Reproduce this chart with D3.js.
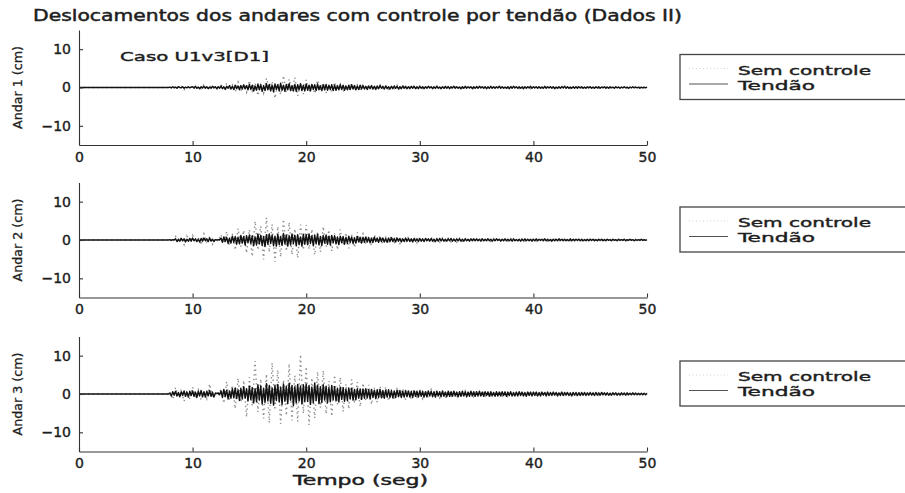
<!DOCTYPE html>
<html>
<head>
<meta charset="utf-8">
<script src="https://cdn.jsdelivr.net/npm/d3@7"></script>
<style>
  body { margin: 0; background: #fff; }
  svg { display: block; }
</style>
</head>
<body>
<svg id="chart" width="905" height="493"></svg>
<script>
// Sampling intervals of the displacement records (s)
const semDt = 0.25;
const tendaoDt = 0.125;

const titulo = "Deslocamentos dos andares com controle por tendão (Dados II)";
const caso = "Caso U1v3[D1]";
const eixoX = "Tempo (seg)";
const xTicks = [0, 10, 20, 30, 40, 50];
const yTicks = [-10, 0, 10];
const seriesNames = ["Sem controle", "Tendão"];
const andarLabels = ["Andar 1 (cm)", "Andar 2 (cm)", "Andar 3 (cm)"];

// Uncontrolled floor displacements (cm), one value every semDt seconds, 0..50 s
const semControle1 = [
  0,0,0,0,0,0,0,0,0,0,0,0,0,0,0,0,0,0,0,0,
  0,0,0,0,0,0,0,0,0,0,0,0,0.2,-0.4,0.5,-0.1,0.3,-0.6,0.2,-0.3,
  0.4,-0.6,0.2,-0.3,0.9,-0.5,0.6,-0.2,0.3,-0.7,0.8,-0.3,1.1,-0.6,0.7,-1.2,1.4,-0.8,0.6,-1.3,
  1.8,-0.9,1.2,-2.1,0.7,-1.5,2.4,-0.6,1.6,-2.8,1.1,-1.9,3.1,-1.3,2.2,-0.9,2.6,-2.2,1.0,-1.7,
  2.0,-1.1,0.8,-1.6,1.9,-0.7,1.2,-1.5,0.6,-1.2,1.4,-0.8,0.9,-1.1,0.5,-0.9,1.0,-0.6,0.7,-1.0,
  0.8,-0.4,0.6,-0.7,0.3,-0.6,0.7,-0.3,0.5,-0.5,0.3,-0.6,0.6,-0.3,0.4,-0.5,0.3,-0.2,0.5,-0.4,
  0.4,-0.3,0.2,-0.4,0.3,-0.2,0.4,-0.3,0.2,-0.4,0.3,-0.2,0.4,-0.3,0.2,-0.2,0.3,-0.4,0.2,-0.3,
  0.3,-0.2,0.4,-0.2,0.2,-0.3,0.3,-0.1,0.3,-0.3,0.2,-0.2,0.3,-0.2,0.2,-0.3,0.3,-0.2,0.1,-0.3,
  0.2,-0.3,0.2,-0.1,0.3,-0.2,0.2,-0.3,0.2,-0.2,0.3,-0.2,0.1,-0.3,0.2,-0.2,0.3,-0.1,0.2,-0.2,
  0.2,-0.2,0.1,-0.2,0.3,-0.2,0.2,-0.1,0.2,-0.3,0.1,-0.2,0.2,-0.2,0.1,-0.2,0.2,-0.1,0.2,-0.2,
  0.1
];
const semControle2 = [
  0,0,0,0,0,0,0,0,0,0,0,0,0,0,0,0,0,0,0,0,
  0,0,0,0,0,0,0,0,0,0,0,0,0.2,-0.6,0.9,-0.4,0.7,-1.2,1.0,-0.5,
  1.2,-0.7,0.6,-1.3,1.6,-0.5,0.9,-1.1,0.4,-0.3,1.4,-0.8,2.2,-1.4,1.6,-2.6,3.0,-1.7,2.5,-3.4,
  2.7,-4.3,4.9,-2.6,3.6,-5.1,5.8,-3.2,4.1,-5.7,3.5,-4.4,5.4,-2.9,4.6,-3.8,2.9,-4.7,4.0,-2.6,
  3.9,-2.4,2.8,-3.9,2.2,-3.1,3.5,-1.8,2.6,-2.9,1.7,-2.5,2.8,-1.4,1.9,-2.2,1.3,-1.9,2.0,-1.1,
  1.6,-1.2,0.9,-1.5,1.3,-0.8,1.2,-1.1,0.7,-1.0,1.1,-0.6,0.9,-0.9,0.6,-0.8,0.9,-0.5,0.7,-0.7,
  0.6,-0.7,0.5,-0.4,0.7,-0.5,0.4,-0.6,0.6,-0.3,0.5,-0.5,0.3,-0.6,0.5,-0.4,0.4,-0.3,0.5,-0.4,
  0.4,-0.3,0.5,-0.4,0.3,-0.4,0.4,-0.2,0.4,-0.4,0.3,-0.3,0.4,-0.2,0.3,-0.4,0.3,-0.3,0.2,-0.3,
  0.3,-0.3,0.2,-0.2,0.3,-0.3,0.2,-0.2,0.3,-0.2,0.3,-0.3,0.2,-0.2,0.3,-0.2,0.2,-0.3,0.2,-0.2,
  0.2,-0.2,0.3,-0.1,0.2,-0.2,0.2,-0.1,0.2,-0.2,0.1,-0.2,0.2,-0.2,0.2,-0.1,0.2,-0.2,0.1,-0.1,
  0.1
];
const semControle3 = [
  0,0,0,0,0,0,0,0,0,0,0,0,0,0,0,0,0,0,0,0,
  0,0,0,0,0,0,0,0,0,0,0,0,0.6,-1.4,1.7,-0.8,1.2,-1.9,0.9,-1.3,
  1.8,-0.9,1.1,-1.6,0.8,-1.2,2.6,-1.0,0.5,-0.4,1.3,-2.4,3.2,-1.6,2.3,-3.8,4.1,-2.2,3.5,-6.0,
  4.4,-3.1,8.6,-4.7,3.9,-6.4,5.2,-7.5,8.1,-4.2,6.3,-7.8,3.7,-5.6,7.9,-6.9,4.8,-7.2,10.3,-5.1,
  7.1,-8.1,4.2,-6.3,5.8,-3.6,6.1,-5.2,3.4,-5.8,4.9,-2.7,4.3,-4.6,2.6,-3.9,3.8,-2.4,3.1,-3.3,
  2.8,-1.9,2.4,-2.7,1.6,-2.2,2.0,-1.3,1.9,-1.8,1.2,-1.6,1.7,-1.0,1.4,-1.5,0.9,-1.3,1.2,-0.8,
  1.1,-1.2,0.8,-0.9,1.2,-0.7,0.9,-1.0,0.6,-1.0,0.9,-0.6,0.8,-0.9,0.5,-0.8,0.9,-0.6,0.7,-0.7,
  0.7,-0.5,0.8,-0.6,0.5,-0.7,0.6,-0.4,0.7,-0.6,0.5,-0.7,0.4,-0.6,0.6,-0.4,0.5,-0.6,0.6,-0.4,
  0.5,-0.5,0.4,-0.3,0.6,-0.5,0.4,-0.4,0.5,-0.3,0.4,-0.5,0.5,-0.3,0.3,-0.4,0.5,-0.4,0.3,-0.4,
  0.4,-0.3,0.3,-0.4,0.4,-0.2,0.3,-0.3,0.2,-0.4,0.3,-0.2,0.3,-0.3,0.2,-0.3,0.3,-0.2,0.2,-0.2,
  0.2
];

// Tendon-controlled floor displacements (cm), one value every tendaoDt seconds, 0..50 s
const tendao1 = [
  0,0,0,0,0,0,0,0,0,0,0,0,0,0,0,0,0,0,0,0,0,0,0,0,0,0,0,0,0,0,0,0,0,0,0,0,0,0,0,0,
  0,0,0,0,0,0,0,0,0,0,0,0,0,0,0,0,0,0,0,0,0,0,0,0,
  0.1,-0.1,0.2,-0.1,0.1,-0.2,0.2,0,-0.1,0.2,-0.2,0.1,-0.1,0.2,-0.1,0.1,
  0.2,-0.1,0.3,-0.2,0.1,-0.3,0.2,-0.1,0.3,-0.2,0.2,-0.3,0.1,-0.2,0.3,-0.1,0.2,-0.3,0.2,-0.2,
  0.4,-0.3,0.2,-0.5,0.3,-0.2,0.5,-0.4,0.3,-0.5,0.6,-0.3,0.4,-0.6,0.5,-0.4,0.7,-0.3,0.5,-0.6,
  0.8,-0.5,0.6,-0.9,0.4,-0.7,0.9,-0.6,0.7,-1.0,0.5,-0.8,1.0,-0.6,0.8,-0.9,0.6,-1.1,0.9,-0.5,
  0.7,-0.9,1.1,-0.7,0.6,-1.0,0.8,-0.6,1.0,-0.8,0.5,-0.9,0.8,-1.0,0.7,-0.6,1.0,-0.8,0.6,-0.9,
  0.9,-0.7,0.6,-0.9,0.8,-0.5,0.7,-0.8,0.9,-0.6,0.5,-0.8,0.7,-0.6,0.8,-0.7,0.6,-0.5,0.7,-0.8,
  0.6,-0.7,0.5,-0.6,0.7,-0.5,0.6,-0.7,0.4,-0.6,0.6,-0.5,0.7,-0.4,0.5,-0.6,0.4,-0.5,0.6,-0.4,
  0.5,-0.4,0.3,-0.5,0.4,-0.3,0.5,-0.4,0.3,-0.5,0.4,-0.3,0.5,-0.2,0.3,-0.4,0.4,-0.3,0.2,-0.4,
  0.3,-0.3,0.4,-0.2,0.3,-0.4,0.2,-0.3,0.4,-0.2,0.3,-0.3,0.2,-0.3,0.3,-0.2,0.3,-0.3,0.2,-0.3,
  0.3,-0.2,0.2,-0.3,0.2,-0.2,0.3,-0.1,0.2,-0.3,0.2,-0.2,0.3,-0.2,0.1,-0.3,0.2,-0.2,0.3,-0.2,
  0.2,-0.3,0.2,-0.1,0.3,-0.2,0.2,-0.2,0.1,-0.3,0.2,-0.2,0.3,-0.2,0.2,-0.1,0.2,-0.3,0.2,-0.2,
  0.2,-0.2,0.3,-0.1,0.2,-0.2,0.2,-0.3,0.1,-0.2,0.3,-0.2,0.2,-0.2,0.2,-0.1,0.3,-0.2,0.2,-0.2,
  0.1,-0.2,0.2,-0.3,0.2,-0.2,0.3,-0.1,0.2,-0.2,0.2,-0.2,0.1,-0.3,0.2,-0.2,0.2,-0.1,0.3,-0.2,
  0.2,-0.1,0.2,-0.2,0.2,-0.2,0.1,-0.2,0.3,-0.2,0.2,-0.1,0.2,-0.2,0.2,-0.3,0.1,-0.2,0.2,-0.2,
  0.2,-0.1,0.3,-0.2,0.2,-0.2,0.1,-0.2,0.2,-0.2,0.2,-0.2,0.2,-0.1,0.2,-0.2,0.1,-0.2,0.2,-0.1,
  0.2,-0.2,0.1,-0.2,0.2,-0.1,0.2,-0.2,0.1,-0.1,0.2,-0.2,0.1,-0.2,0.2,-0.1,0.1,-0.2,0.2,-0.1,
  0.1,-0.2,0.1,-0.1,0.2,-0.1,0.1,-0.2,0.1,-0.1,0.2,-0.1,0.1,-0.1,0.1,-0.2,0.1,-0.1,0.1,-0.1,
  0.1
];
const tendao2 = [
  0,0,0,0,0,0,0,0,0,0,0,0,0,0,0,0,0,0,0,0,0,0,0,0,0,0,0,0,0,0,0,0,0,0,0,0,0,0,0,0,
  0,0,0,0,0,0,0,0,0,0,0,0,0,0,0,0,0,0,0,0,0,0,0,0,
  0.1,-0.1,0.1,0,0.3,-0.4,0.2,-0.3,0.4,-0.2,0.3,-0.5,0.2,-0.3,0.4,-0.3,
  0.5,-0.2,0.3,-0.4,0.2,-0.5,0.4,-0.3,0.5,-0.2,0.3,-0.4,0.5,-0.3,0.2,-0.4,0.1,0,0.1,0,
  0.5,-0.6,0.8,-0.4,0.7,-0.9,0.5,-0.8,1.0,-0.6,0.9,-1.1,0.7,-1.0,1.2,-0.8,0.9,-1.3,1.1,-0.7,
  1.3,-0.9,1.1,-1.5,0.8,-1.3,1.6,-1.0,1.2,-1.4,0.9,-1.7,1.4,-1.1,1.6,-0.9,1.3,-1.5,1.0,-1.6,
  1.5,-1.2,0.9,-1.4,1.7,-1.0,1.3,-1.6,1.1,-1.3,1.6,-0.9,1.2,-1.5,1.4,-1.2,0.8,-1.6,1.5,-1.1,
  1.4,-1.2,1.6,-0.9,1.1,-1.5,1.3,-1.0,1.5,-1.3,0.9,-1.4,1.2,-0.8,1.3,-1.1,1.0,-1.3,1.2,-0.7,
  1.1,-1.0,0.8,-1.2,1.0,-0.7,0.9,-1.1,0.7,-0.9,1.0,-0.6,0.8,-0.9,0.6,-0.8,0.9,-0.5,0.7,-0.8,
  0.7,-0.6,0.8,-0.5,0.6,-0.7,0.5,-0.6,0.7,-0.4,0.5,-0.6,0.6,-0.4,0.5,-0.5,0.4,-0.6,0.5,-0.4,
  0.6,-0.4,0.4,-0.5,0.5,-0.3,0.4,-0.5,0.3,-0.4,0.5,-0.3,0.4,-0.4,0.3,-0.5,0.4,-0.3,0.3,-0.4,
  0.4,-0.3,0.3,-0.4,0.4,-0.2,0.3,-0.3,0.4,-0.3,0.2,-0.4,0.3,-0.3,0.4,-0.2,0.3,-0.3,0.2,-0.3,
  0.3,-0.2,0.4,-0.3,0.2,-0.3,0.3,-0.2,0.3,-0.3,0.2,-0.3,0.3,-0.2,0.2,-0.3,0.3,-0.2,0.3,-0.2,
  0.3,-0.2,0.2,-0.3,0.3,-0.2,0.2,-0.2,0.3,-0.2,0.2,-0.3,0.2,-0.2,0.3,-0.1,0.2,-0.3,0.2,-0.2,
  0.3,-0.2,0.2,-0.2,0.2,-0.3,0.3,-0.2,0.1,-0.2,0.2,-0.3,0.2,-0.2,0.3,-0.2,0.2,-0.2,0.2,-0.3,
  0.2,-0.2,0.3,-0.2,0.2,-0.1,0.2,-0.2,0.3,-0.2,0.2,-0.2,0.1,-0.3,0.2,-0.2,0.2,-0.2,0.3,-0.1,
  0.2,-0.2,0.2,-0.2,0.1,-0.2,0.3,-0.2,0.2,-0.2,0.2,-0.1,0.2,-0.2,0.2,-0.2,0.1,-0.2,0.2,-0.2,
  0.2,-0.1,0.2,-0.2,0.1,-0.2,0.2,-0.1,0.2,-0.2,0.1,-0.2,0.2,-0.1,0.1,-0.2,0.2,-0.1,0.1,-0.2,
  0.2,-0.1,0.1,-0.1,0.2,-0.2,0.1,-0.1,0.2,-0.1,0.1,-0.2,0.1,-0.1,0.1,-0.1,0.2,-0.1,0.1,-0.1,
  0.1
];
const tendao3 = [
  0,0,0,0,0,0,0,0,0,0,0,0,0,0,0,0,0,0,0,0,0,0,0,0,0,0,0,0,0,0,0,0,0,0,0,0,0,0,0,0,
  0,0,0,0,0,0,0,0,0,0,0,0,0,0,0,0,0,0,0,0,0,0,0,0,
  0.2,-0.5,0.6,-0.3,0.7,-0.5,0.4,-0.7,0.6,-0.4,0.8,-0.6,0.5,-0.8,0.7,-0.4,
  0.8,-0.6,0.5,-0.9,0.7,-0.5,0.9,-0.7,0.6,-0.8,0.7,-0.5,0.9,-0.6,0.5,-0.8,0.2,0.1,0.3,-0.2,
  0.8,-0.9,1.2,-0.7,1.0,-1.3,0.8,-1.1,1.4,-1.0,1.6,-1.2,1.1,-1.7,1.5,-1.3,1.9,-1.1,1.4,-1.8,
  2.0,-1.5,1.7,-2.3,1.4,-2.0,2.4,-1.6,2.1,-2.6,1.5,-2.2,2.7,-1.8,2.2,-2.4,1.6,-2.9,2.3,-1.7,
  2.5,-2.1,1.8,-2.7,2.6,-1.9,2.0,-2.5,2.8,-1.6,2.2,-3.0,1.9,-2.3,2.5,-1.8,2.1,-2.6,2.4,-2.0,
  2.6,-1.9,2.2,-2.7,1.8,-2.3,2.9,-1.7,2.3,-2.5,1.9,-2.2,2.4,-1.6,2.0,-2.3,1.7,-2.0,2.2,-1.5,
  1.9,-1.8,1.5,-2.1,1.8,-1.4,1.7,-1.9,1.3,-1.7,1.6,-1.3,1.5,-1.6,1.2,-1.5,1.4,-1.1,1.3,-1.4,
  1.3,-1.1,1.4,-1.0,1.1,-1.3,1.2,-0.9,1.0,-1.2,1.1,-0.9,1.2,-1.0,0.9,-1.1,1.0,-0.8,1.1,-0.9,
  0.9,-1.0,0.8,-0.9,1.0,-0.7,0.9,-0.9,0.7,-0.8,0.9,-0.7,0.8,-0.8,0.7,-0.9,0.8,-0.6,0.7,-0.8,
  0.8,-0.6,0.7,-0.8,0.6,-0.7,0.8,-0.5,0.7,-0.7,0.6,-0.8,0.7,-0.5,0.6,-0.7,0.8,-0.6,0.5,-0.7,
  0.7,-0.6,0.6,-0.6,0.7,-0.5,0.5,-0.7,0.6,-0.6,0.7,-0.5,0.6,-0.7,0.5,-0.6,0.7,-0.5,0.6,-0.6,
  0.6,-0.5,0.7,-0.5,0.5,-0.6,0.6,-0.4,0.5,-0.6,0.6,-0.5,0.4,-0.6,0.6,-0.5,0.5,-0.5,0.6,-0.4,
  0.5,-0.6,0.5,-0.4,0.6,-0.5,0.4,-0.5,0.5,-0.5,0.6,-0.4,0.5,-0.5,0.4,-0.6,0.5,-0.4,0.5,-0.5,
  0.5,-0.4,0.5,-0.5,0.4,-0.5,0.5,-0.3,0.4,-0.5,0.5,-0.4,0.4,-0.4,0.5,-0.3,0.4,-0.5,0.3,-0.4,
  0.5,-0.4,0.4,-0.3,0.4,-0.4,0.3,-0.5,0.4,-0.3,0.4,-0.4,0.3,-0.4,0.4,-0.3,0.4,-0.4,0.3,-0.3,
  0.4,-0.3,0.3,-0.4,0.4,-0.3,0.3,-0.3,0.4,-0.2,0.3,-0.3,0.3,-0.3,0.2,-0.3,0.3,-0.2,0.3,-0.3,
  0.2,-0.3,0.3,-0.2,0.2,-0.3,0.3,-0.2,0.2,-0.2,0.3,-0.2,0.2,-0.2,0.2,-0.2,0.2,-0.2,0.2,-0.2,
  0.2
];

const semControle = [semControle1, semControle2, semControle3];
const tendao = [tendao1, tendao2, tendao3];

// ---- layout ----
const plotLeft = 79, plotRight = 647;
const panelTops = [30, 182.5, 336.5];
const panelHeight = 115;
const font = "'DejaVu Sans', 'Liberation Sans', sans-serif";
const ink = "#1e1e1e";

const svg = d3.select("#chart");

// heavier glyphs, like a printed figure
function inked(sel, w) {
  return sel.attr("fill", ink).attr("stroke", ink).attr("stroke-width", w);
}

inked(svg.append("text"), 0.45)
  .attr("x", 33).attr("y", 21)
  .attr("textLength", 649).attr("lengthAdjust", "spacingAndGlyphs")
  .style("font-family", font).style("font-size", "15px")
  .text(titulo);

const x = d3.scaleLinear().domain([0, 50]).range([plotLeft, plotRight]);

panelTops.forEach((top, p) => {
  const y = d3.scaleLinear().domain([-15, 15]).range([top + panelHeight, top]);
  const g = svg.append("g");

  const lineSem = d3.line().x((d, i) => x(i * semDt)).y(d => y(d));
  const lineTendao = d3.line().x((d, i) => x(i * tendaoDt)).y(d => y(d));

  // uncontrolled response: dotted light line
  g.append("path")
    .datum(semControle[p])
    .attr("d", lineSem)
    .attr("fill", "none")
    .attr("stroke", "#8f8f8f")
    .attr("stroke-width", 1.4)
    .attr("stroke-dasharray", "1.4 3.2");

  // tendon-controlled response: solid dark line
  g.append("path")
    .datum(tendao[p])
    .attr("d", lineTendao)
    .attr("fill", "none")
    .attr("stroke", "#121212")
    .attr("stroke-width", 1.45)
    .attr("stroke-linejoin", "round");

  // axes with inward ticks, no box
  const xAxis = g.append("g")
    .attr("transform", `translate(0,${top + panelHeight})`)
    .call(d3.axisBottom(x).tickValues(xTicks).tickFormat(d3.format("d"))
      .tickSizeInner(-4).tickSizeOuter(0).tickPadding(7));
  const yAxis = g.append("g")
    .attr("transform", `translate(${plotLeft},0)`)
    .call(d3.axisLeft(y).tickValues(yTicks).tickFormat(d3.format("d"))
      .tickSizeInner(-4).tickSizeOuter(0).tickPadding(8));
  [xAxis, yAxis].forEach(a => {
    a.selectAll("path, line").attr("stroke", "#333").attr("stroke-width", 1.1);
    inked(a.selectAll("text"), 0.4)
      .style("font-family", font).style("font-size", "14px");
  });

  // y-axis label
  inked(g.append("text"), 0.3)
    .attr("transform", `translate(22,${y(0)}) rotate(-90)`)
    .attr("text-anchor", "middle")
    .attr("textLength", 83).attr("lengthAdjust", "spacingAndGlyphs")
    .style("font-family", font).style("font-size", "12px")
    .text(andarLabels[p]);

  // legend box (runs past the right edge)
  const ly = y(0) - 33;
  const leg = g.append("g").attr("transform", `translate(680,${ly})`);
  leg.append("rect")
    .attr("x", 0).attr("y", 0).attr("width", 260).attr("height", 45)
    .attr("fill", "#fff").attr("stroke", "#444").attr("stroke-width", 1.3);
  leg.append("line")
    .attr("x1", 9).attr("x2", 48).attr("y1", 14).attr("y2", 14)
    .attr("stroke", "#d0d0d0").attr("stroke-width", 1).attr("stroke-dasharray", "1 2.5");
  leg.append("line")
    .attr("x1", 9).attr("x2", 48).attr("y1", 29.5).attr("y2", 29.5)
    .attr("stroke", "#555").attr("stroke-width", 1);
  inked(leg.append("text"), 0.4)
    .attr("x", 58).attr("y", 20)
    .attr("textLength", 133).attr("lengthAdjust", "spacingAndGlyphs")
    .style("font-family", font).style("font-size", "13px")
    .text(seriesNames[0]);
  inked(leg.append("text"), 0.4)
    .attr("x", 58).attr("y", 35)
    .attr("textLength", 77).attr("lengthAdjust", "spacingAndGlyphs")
    .style("font-family", font).style("font-size", "13px")
    .text(seriesNames[1]);

  if (p === 0) {
    inked(g.append("text"), 0.4)
      .attr("x", 120).attr("y", 61)
      .attr("textLength", 149).attr("lengthAdjust", "spacingAndGlyphs")
      .style("font-family", font).style("font-size", "13px")
      .text(caso);
  }
  if (p === 2) {
    inked(g.append("text"), 0.45)
      .attr("x", 293).attr("y", 485)
      .attr("textLength", 135).attr("lengthAdjust", "spacingAndGlyphs")
      .style("font-family", font).style("font-size", "14px")
      .text(eixoX);
  }
});
</script>
</body>
</html>
